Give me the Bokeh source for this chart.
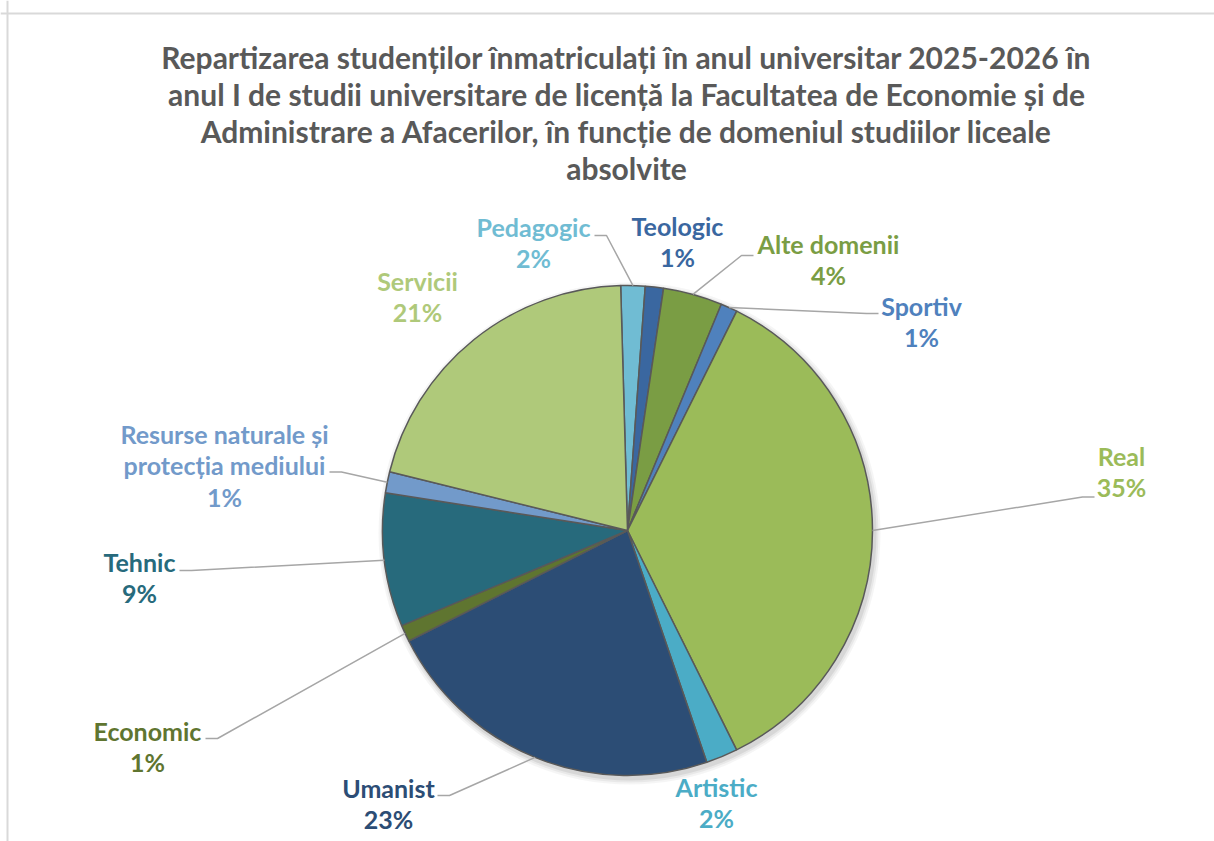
import math
from bokeh.plotting import figure
from bokeh.models import Range1d, Span, ColumnDataSource
from bokeh.core.properties import value
from bokeh.embed import file_html
from bokeh.resources import INLINE

# ---------------- data ----------------
title_lines = [
    "Repartizarea studenților înmatriculați în anul universitar 2025-2026 în",
    "anul I de studii universitare de licență la Facultatea de Economie și de",
    "Administrare a Afacerilor, în funcție de domeniul studiilor liceale",
    "absolvite",
]
categories = ["Pedagogic", "Teologic", "Alte domenii", "Sportiv", "Real", "Artistic",
              "Umanist", "Economic", "Tehnic", "Resurse naturale și protecția mediului",
              "Servicii"]
label_lines = [["Pedagogic"], ["Teologic"], ["Alte domenii"], ["Sportiv"], ["Real"],
               ["Artistic"], ["Umanist"], ["Economic"], ["Tehnic"],
               ["Resurse naturale și", "protecția mediului"], ["Servicii"]]
shares = [1.6, 1.2, 3.9, 1.1, 35.3, 2.1, 22.8, 1.1, 8.8, 1.4, 20.7]
colors = ["#70BCD3", "#3A67A0", "#7A9D44", "#4F81BD", "#9BBB59", "#4BACC6",
          "#2C4D75", "#5F7530", "#276A7C", "#729ACA", "#AFC97A"]

# ---------------- layout / style ----------------
W, H = 1214, 841
FONT = "Lato"
TITLE_SIZE = "30px"
LABEL_SIZE = "25px"
LINE_STEP = 31.5
TEXT_SHIFT = 2            # glyph centring correction (px, upwards)
START_DEG = -1.6          # first slice begins slightly left of 12 o'clock
R = 245
PIE_C = (627, 530)        # page pixel coordinates

def sx(x):
    return x

def sy(y):
    return H - y

CX, CY = sx(PIE_C[0]), sy(PIE_C[1])

# label block placement relative to pie centre (dx, dy of first line, page px, y down)
label_offsets = [(-94, -302), (50, -303), (201, -285), (294, -223), (494, -73),
                 (89, 258), (-239, 259), (-480, 202), (-488, 33), (-403, -95),
                 (-210, -248)]
# leader: (line index attached, side, half text width, y offset from line centre)
leaders = {0: (0, "right", 57, 7), 2: (0, "left", 71, 10), 3: (0, "left", 39, 6),
           4: (1, "left", 23, 8), 6: (0, "right", 45, 6), 7: (0, "right", 54, 6),
           8: (0, "right", 36, 7), 9: (1, "right", 101, 5)}

p = figure(width=W, height=H, output_backend="svg", toolbar_location=None,
           x_range=Range1d(0, W), y_range=Range1d(0, H), min_border=0,
           outline_line_color=None, background_fill_color="white",
           border_fill_color="white")
p.axis.visible = False
p.grid.visible = False

# chart border (left and top visible in the window)
p.add_layout(Span(location=p.x_range.start + 7, dimension="height",
                  line_color="#D9D9D9", line_width=2))
p.add_layout(Span(location=p.y_range.end - 13, dimension="width",
                  line_color="#D9D9D9", line_width=2))

# title
ty = [sy(58 + 37 * i - TEXT_SHIFT) for i in range(len(title_lines))]
p.text(x=[sx(626)] * len(title_lines), y=ty, text=title_lines,
       text_font=value(FONT), text_font_style="bold", text_font_size=TITLE_SIZE,
       text_color="#595959", text_align="center", text_baseline="middle")

# wedges
total = sum(shares)
t1, t2, mids = [], [], []
acc = START_DEG
for s in shares:
    d = s / total * 360.0
    t1.append(acc)
    t2.append(acc + d)
    mids.append(acc + d / 2)
    acc += d

# soft shadow
for k, a in [(6, 0.04), (4, 0.05), (2, 0.07)]:
    p.circle(x=[CX + 2], y=[CY - 3], radius=R + k, fill_color="#000000",
             fill_alpha=a, line_color=None)

src = ColumnDataSource(dict(
    start=[math.radians(90 - b) for b in t2],
    end=[math.radians(90 - a) for a in t1],
    color=colors, cat=categories))
p.wedge(x=CX, y=CY, radius=R, start_angle="start", end_angle="end",
        fill_color="color", line_color="#595959", line_width=1.5, source=src)

# labels
lx, ly, lt, lc = [], [], [], []
for i, lines in enumerate(label_lines):
    pct = f"{round(shares[i] / total * 100)}%"
    dx, dy = label_offsets[i]
    for j, t in enumerate(lines + [pct]):
        lx.append(sx(PIE_C[0] + dx))
        ly.append(sy(PIE_C[1] + dy + j * LINE_STEP - TEXT_SHIFT))
        lt.append(t)
        lc.append(colors[i])
p.text(x=lx, y=ly, text=lt, text_color=lc, text_font=value(FONT),
       text_font_style="bold", text_font_size=LABEL_SIZE, text_align="center",
       text_baseline="middle")

# leader lines
for i, (li, side, hw, yo) in leaders.items():
    dx, dy = label_offsets[i]
    yline = PIE_C[1] + dy + li * LINE_STEP + yo
    sign = 1 if side == "right" else -1
    x0 = PIE_C[0] + dx + sign * (hw + 4)
    x1 = x0 + sign * 12
    th = math.radians(mids[i])
    rx = PIE_C[0] + R * math.sin(th)
    ry = PIE_C[1] - R * math.cos(th)
    p.line(x=[sx(x0), sx(x1), sx(rx)], y=[sy(yline), sy(yline), sy(ry)],
           line_color="#A6A6A6", line_width=1.5)

open("out.html", "w").write(file_html(p, INLINE))
